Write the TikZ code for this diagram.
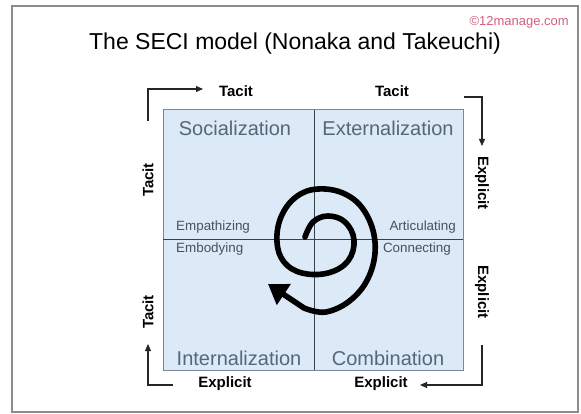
\documentclass[tikz,border=0pt]{standalone}
\usepackage{fontspec}
\setmainfont{Liberation Sans}
\usetikzlibrary{arrows.meta}
\definecolor{quadfill}{HTML}{DCE9F7}
\definecolor{quadedge}{HTML}{7C8796}
\definecolor{midline}{HTML}{34424F}
\definecolor{quadtext}{HTML}{56677A}
\definecolor{smalltext}{HTML}{46525F}
\definecolor{wm}{HTML}{D0607A}
\tikzset{
  quadlabel/.style={font=\fontsize{20}{22}\selectfont, text=quadtext, inner sep=0pt},
  smalllabel/.style={font=\fontsize{13.4}{15}\selectfont, text=smalltext, inner sep=0pt},
  dimlabel/.style={font=\bfseries\fontsize{15}{17}\selectfont, inner sep=0pt},
  bracket/.style={draw=black!85, line width=1.1pt, -{Triangle[length=7pt,width=6pt]}},
  spiral/.style={line width=5.6pt, line cap=round, line join=round, -{Triangle[length=19pt,width=24pt]}}
}
\begin{document}
\begin{tikzpicture}[x=1pt,y=-1pt]
\useasboundingbox (0,0) rectangle (581,414);
% outer frame
\draw[draw=black!45, line width=1.4pt] (12,6) rectangle (578,412);
\node[font=\fontsize{23}{26}\selectfont, anchor=base] (title) at (295,50) {The SECI model (Nonaka and Takeuchi)};
\node[font=\fontsize{13}{14}\selectfont, text=wm, anchor=east, inner sep=0pt] (wmark) at (569,22) {©12manage.com};
% quadrants
\draw[fill=quadfill, draw=quadedge, line width=1pt] (163,110) rectangle (463,370);
\coordinate (vt) at (314,110); \coordinate (vb) at (314,370);
\coordinate (hl) at (163,239); \coordinate (hr) at (463,239);
\draw[midline, line width=0.9pt] (vt) -- (vb);
\draw[midline, line width=0.9pt] (hl) -- (hr);
\node[quadlabel] (soc) at (235,128) {Socialization};
\node[quadlabel] (ext) at (388,128) {Externalization};
\node[quadlabel] (int) at (239,358) {Internalization};
\node[quadlabel] (com) at (388,358) {Combination};
\node[smalllabel, anchor=west] (emp) at (176,227) {Empathizing};
\node[smalllabel, anchor=west] (emb) at (176,249) {Embodying};
\node[smalllabel, anchor=east] (art) at (456,227) {Articulating};
\node[smalllabel, anchor=east] (con) at (451,249) {Connecting};
% dimension labels
\node[dimlabel] (t1) at (236,91) {Tacit};
\node[dimlabel] (t2) at (392,91) {Tacit};
\node[dimlabel, rotate=-90] (e1) at (482,183) {Explicit};
\node[dimlabel, rotate=-90] (e2) at (482,292) {Explicit};
\node[dimlabel] (e3) at (225,384) {Explicit};
\node[dimlabel] (e4) at (381,384) {Explicit};
\node[dimlabel, rotate=90] (t3) at (148,180) {Tacit};
\node[dimlabel, rotate=90] (t4) at (148,312) {Tacit};
% brackets
\coordinate (a1) at (148,121); \coordinate (a2) at (148,89); \coordinate (a3) at (203,89);
\draw[bracket] (a1) -- (a2) -- (a3);
\coordinate (b1) at (464,97); \coordinate (b2) at (482,97); \coordinate (b3) at (482,146);
\draw[bracket] (b1) -- (b2) -- (b3);
\coordinate (c1) at (482,345); \coordinate (c2) at (482,385); \coordinate (c3) at (420,385);
\draw[bracket] (c1) -- (c2) -- (c3);
\coordinate (d1) at (173,385); \coordinate (d2) at (148,385); \coordinate (d3) at (148,344);
\draw[bracket] (d1) -- (d2) -- (d3);
% spiral
\coordinate (sptip) at (268,284);
\draw[spiral] plot[smooth, tension=0.65] coordinates {
 (305,237) (313,222) (328,216) (345,222) (354,240) (348,261) (328,273)
 (302,273) (284,262) (277,242) (281,217) (296,197) (318,189) (345,194)
 (365,212) (375,242) (370,274) (352,299) (326,312) (304,308)} -- (sptip);
\end{tikzpicture}
\end{document}
